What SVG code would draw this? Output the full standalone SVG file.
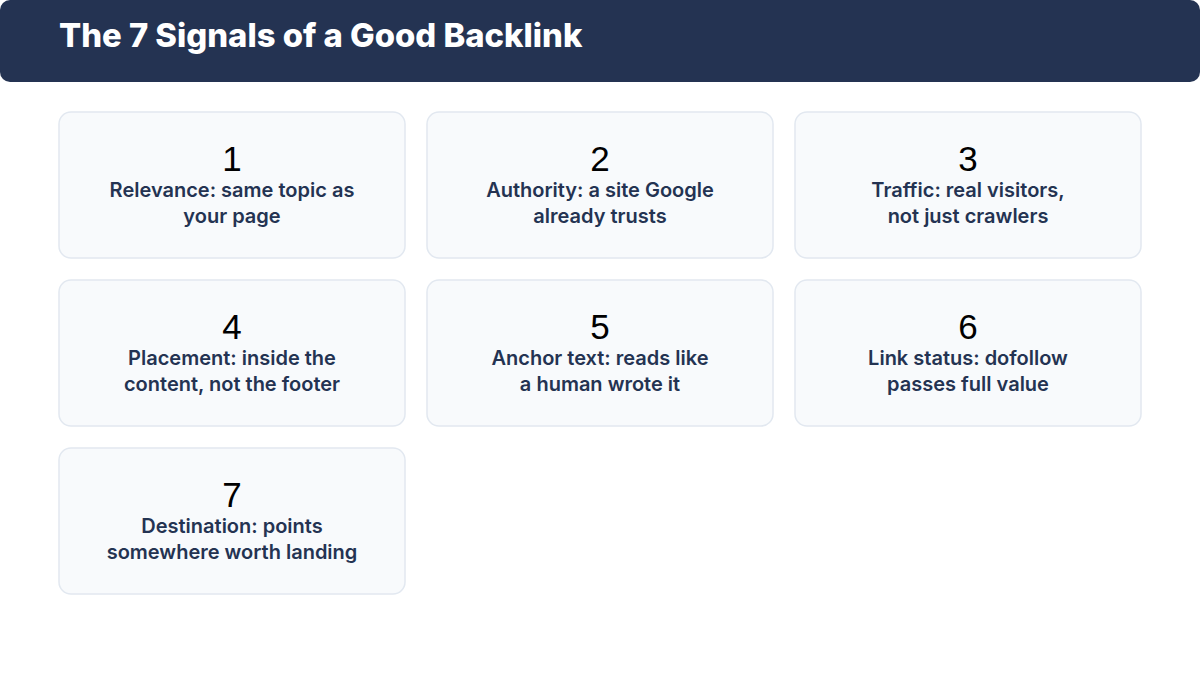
<svg xmlns="http://www.w3.org/2000/svg" width="1200" height="685" viewBox="0 0 1200 685">
<style>
.card{fill:#f8fafc;stroke:#e2e8f0;stroke-width:1.5}
.num{font-family:"Liberation Sans",Arial,sans-serif;font-size:35px;fill:#000;text-anchor:middle}
.lbl{font-family:Inter,"Liberation Sans",sans-serif;font-size:20px;font-weight:600;fill:#243352;text-anchor:middle}
.title{font-family:Inter,"Liberation Sans",sans-serif;font-size:32.8px;font-weight:800;fill:#fff}
</style>
<rect width="1200" height="685" fill="#fff"/>
<g id="header"><rect x="0" y="0" width="1200" height="82" rx="10" fill="#243352"/><text class="title" x="59" y="47">The 7 Signals of a Good Backlink</text></g>
<g id="n1"><rect class="card" x="59" y="112" width="346" height="146" rx="12"/><text class="num" x="232" y="171">1</text><text class="lbl" x="232" y="197">Relevance: same topic as</text><text class="lbl" x="232" y="223">your page</text></g>
<g id="n2"><rect class="card" x="427" y="112" width="346" height="146" rx="12"/><text class="num" x="600" y="171">2</text><text class="lbl" x="600" y="197">Authority: a site Google</text><text class="lbl" x="600" y="223">already trusts</text></g>
<g id="n3"><rect class="card" x="795" y="112" width="346" height="146" rx="12"/><text class="num" x="968" y="171">3</text><text class="lbl" x="968" y="197">Traffic: real visitors,</text><text class="lbl" x="968" y="223">not just crawlers</text></g>
<g id="n4"><rect class="card" x="59" y="280" width="346" height="146" rx="12"/><text class="num" x="232" y="339">4</text><text class="lbl" x="232" y="365">Placement: inside the</text><text class="lbl" x="232" y="391">content, not the footer</text></g>
<g id="n5"><rect class="card" x="427" y="280" width="346" height="146" rx="12"/><text class="num" x="600" y="339">5</text><text class="lbl" x="600" y="365">Anchor text: reads like</text><text class="lbl" x="600" y="391">a human wrote it</text></g>
<g id="n6"><rect class="card" x="795" y="280" width="346" height="146" rx="12"/><text class="num" x="968" y="339">6</text><text class="lbl" x="968" y="365">Link status: dofollow</text><text class="lbl" x="968" y="391">passes full value</text></g>
<g id="n7"><rect class="card" x="59" y="448" width="346" height="146" rx="12"/><text class="num" x="232" y="507">7</text><text class="lbl" x="232" y="533">Destination: points</text><text class="lbl" x="232" y="559">somewhere worth landing</text></g>
<g id="connectors"/>
</svg>
